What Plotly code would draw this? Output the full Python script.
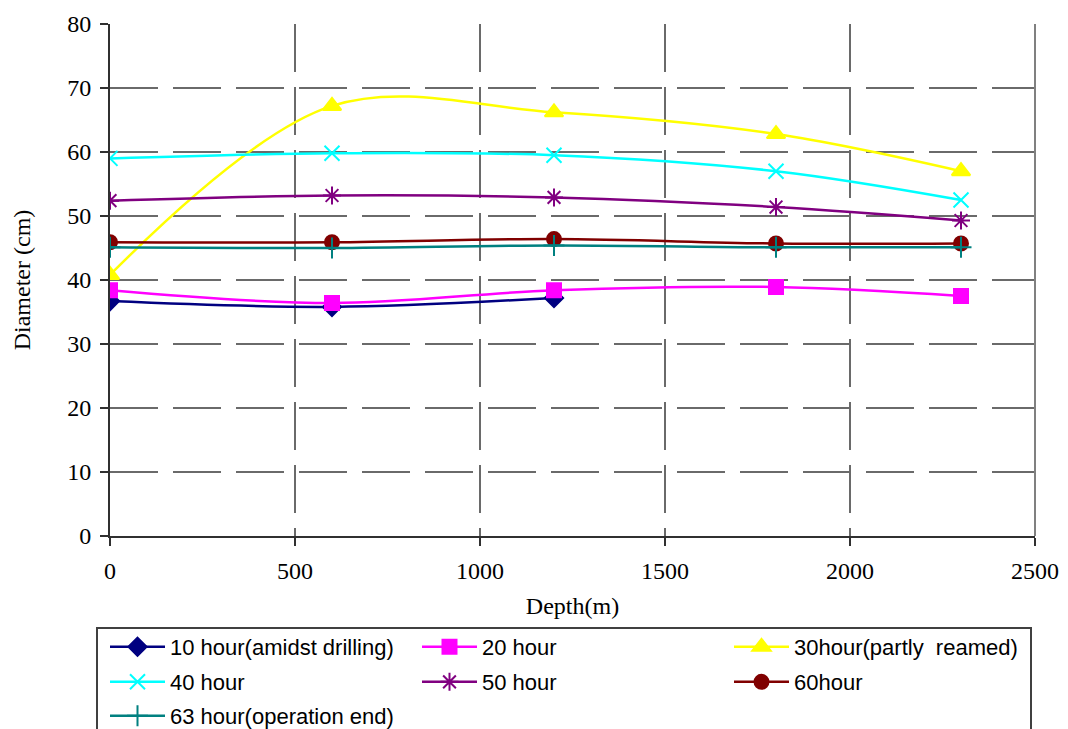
import plotly.graph_objects as go

depth = [0, 600, 1200, 1800, 2300]
depth_10 = [0, 600, 1200]

d_10h = [36.7, 35.8, 37.2]
d_20h = [38.4, 36.4, 38.4, 38.9, 37.5]
d_30h = [40.8, 67.2, 66.2, 62.8, 57.0]
d_40h = [59.0, 59.8, 59.5, 57.0, 52.5]
d_50h = [52.4, 53.2, 52.9, 51.4, 49.3]
d_60h = [45.9, 45.9, 46.4, 45.7, 45.7]
d_63h = [45.1, 45.0, 45.4, 45.1, 45.1]

names = ["10 hour(amidst drilling)", "20 hour", "30hour(partly  reamed)",
         "40 hour", "50 hour", "60hour", "63 hour(operation end)"]
colors = ["#000080", "#FF00FF", "#FFFF00", "#00FFFF", "#800080", "#800000", "#008080"]
symbols = ["diamond", "square", "triangle-up", "x-thin-open", "asterisk-open",
           "circle", "cross-thin-open"]
sizes = [14, 14, 16, 15, 15, 14, 15]
xs = [depth_10, depth, depth, depth, depth, depth, depth]
ys = [d_10h, d_20h, d_30h, d_40h, d_50h, d_60h, d_63h]
legend_ids = ["legend", "legend", "legend", "legend2", "legend2", "legend2", "legend3"]

fig = go.Figure()
for i in range(7):
    fig.add_trace(go.Scatter(
        x=xs[i], y=ys[i], name=names[i], mode="lines+markers",
        line=dict(color=colors[i], width=2.5, shape="spline", smoothing=1.0),
        marker=dict(symbol=symbols[i], size=sizes[i], color=colors[i],
                    line=dict(color=colors[i], width=2)),
        legend=legend_ids[i],
    ))

W, H = 1068, 729
L, R, T, B = 110, 33, 24, 193
pw, ph = W - L - R, H - T - B

def px(xp):
    return (xp - L) / pw

def py(yp):
    return (H - B - yp) / ph

SERIF = "Liberation Serif, Times New Roman, serif"
SANS = "Liberation Sans, Arial, sans-serif"

legend_common = dict(orientation="h", xanchor="left", yanchor="middle",
                     font=dict(family=SANS, size=22, color="#000"),
                     entrywidth=242, entrywidthmode="pixels", itemwidth=55,
                     bgcolor="rgba(0,0,0,0)", borderwidth=0, tracegroupgap=0)

fig.update_layout(
    width=W, height=H,
    margin=dict(l=L, r=R, t=T, b=B, autoexpand=False),
    paper_bgcolor="white", plot_bgcolor="white",
    font=dict(family=SERIF, size=24, color="#000"),
    xaxis=dict(range=[0, 2500], dtick=500, tick0=0, showline=True, linecolor="#303030",
               linewidth=2, ticks="outside", ticklen=8, tickcolor="#303030", tickwidth=1.5,
               showgrid=True, gridcolor="#6a6a6a", gridwidth=1.5, griddash="48px,15px",
               zeroline=False,
               title=dict(text="Depth(m)", standoff=14, font=dict(family=SERIF, size=24)),
               tickfont=dict(family=SERIF, size=24), ticklabelstandoff=4),
    yaxis=dict(range=[0, 80], dtick=10, tick0=0, showline=True, linecolor="#303030",
               linewidth=2, ticks="outside", ticklen=8, tickcolor="#303030", tickwidth=1.5,
               showgrid=True, gridcolor="#6a6a6a", gridwidth=1.5, griddash="48px,15px",
               zeroline=False,
               title=dict(text="Diameter (cm)", standoff=30, font=dict(family=SERIF, size=24)),
               tickfont=dict(family=SERIF, size=24), ticklabelstandoff=4),
    legend=dict(x=px(105), y=py(647), **legend_common),
    legend2=dict(x=px(105), y=py(682), **legend_common),
    legend3=dict(x=px(105), y=py(716), **legend_common),
    shapes=[
        dict(type="line", xref="paper", yref="paper", x0=1, x1=1, y0=0, y1=1,
             line=dict(color="#808080", width=2)),
        dict(type="rect", xref="paper", yref="paper", x0=px(97), x1=px(1031),
             y0=py(760), y1=py(628), line=dict(color="#404040", width=2),
             fillcolor="rgba(0,0,0,0)", layer="above"),
    ],
    showlegend=True,
)

fig.write_html("out.html")
